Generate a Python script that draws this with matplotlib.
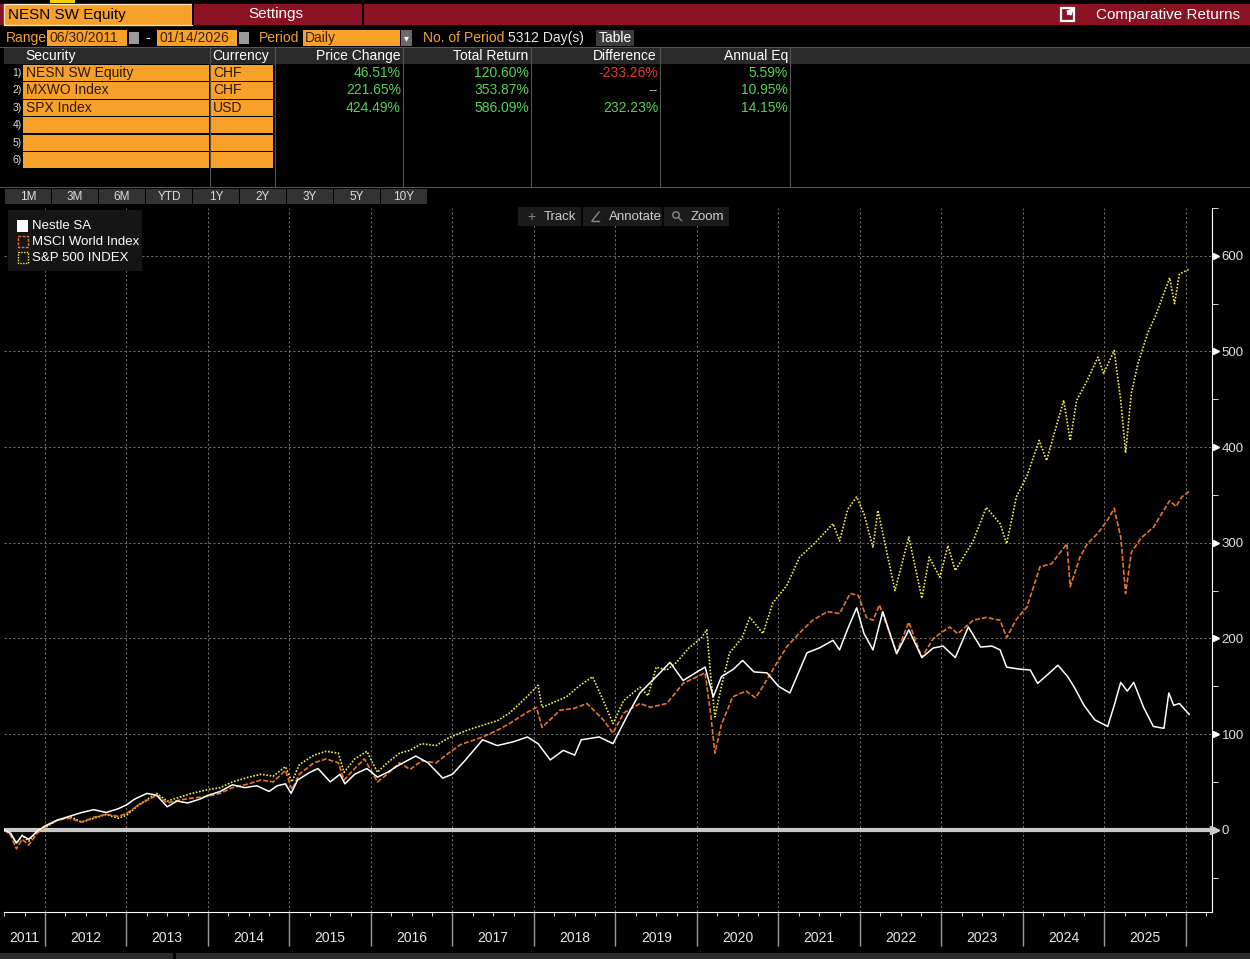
import matplotlib
matplotlib.use("Agg")
import matplotlib.pyplot as plt
import matplotlib.transforms as mtransforms
from matplotlib.patches import Rectangle
import numpy as np

plt.rcParams['font.family'] = ['Liberation Sans Narrow', 'Liberation Sans', 'DejaVu Sans']

# ---- data (cumulative total return, %) ----
nesn_t = [2011.50, 2011.58, 2011.65, 2011.72, 2011.80, 2011.90, 2012.00, 2012.15, 2012.30, 2012.45,
          2012.60, 2012.75, 2012.90, 2013.00, 2013.10, 2013.25, 2013.37, 2013.50, 2013.62, 2013.75,
          2013.90, 2014.00, 2014.15, 2014.30, 2014.45, 2014.60, 2014.75, 2014.85, 2014.95, 2015.02,
          2015.10, 2015.25, 2015.35, 2015.50, 2015.62, 2015.68, 2015.80, 2015.95, 2016.08, 2016.20,
          2016.35, 2016.55, 2016.70, 2016.88, 2017.00, 2017.15, 2017.37, 2017.55, 2017.75, 2017.92,
          2018.05, 2018.20, 2018.36, 2018.50, 2018.58, 2018.80, 2018.97, 2019.15, 2019.30, 2019.50,
          2019.67, 2019.83, 2020.00, 2020.10, 2020.20, 2020.30, 2020.45, 2020.56, 2020.70, 2020.86,
          2021.00, 2021.14, 2021.35, 2021.50, 2021.67, 2021.75, 2021.85, 2021.96, 2022.05, 2022.16,
          2022.28, 2022.45, 2022.60, 2022.76, 2022.90, 2023.02, 2023.17, 2023.33, 2023.48, 2023.62,
          2023.72, 2023.80, 2023.95, 2024.09, 2024.18, 2024.30, 2024.43, 2024.55, 2024.63, 2024.75,
          2024.88, 2025.04, 2025.12, 2025.20, 2025.28, 2025.36, 2025.48, 2025.60, 2025.73, 2025.79,
          2025.85, 2025.92, 2026.04]
nesn_v = [0, -4, -14, -6, -10, -2, 4, 10, 14, 18,
          21, 18, 22, 26, 32, 38, 36, 24, 30, 28,
          32, 36, 40, 47, 44, 46, 40, 46, 48, 38,
          52, 60, 64, 50, 58, 48, 58, 64, 55, 60,
          68, 77, 70, 54, 58, 72, 94, 88, 92, 97,
          90, 73, 83, 78, 94, 97, 90, 120, 143, 160,
          175, 156, 165, 170, 139, 160, 168, 177, 165, 164,
          150, 143, 185, 190, 198, 188, 210, 232, 205, 188,
          228, 184, 209, 180, 190, 192, 180, 212, 191, 192,
          188, 170, 168, 167, 153, 162, 172, 160, 149, 130,
          115, 108, 130, 154, 145, 154, 128, 108, 106, 143,
          130, 132, 120.6]

mxwo_t = [2011.50, 2011.58, 2011.65, 2011.72, 2011.80, 2011.90, 2012.00, 2012.15, 2012.30, 2012.45,
          2012.60, 2012.75, 2012.90, 2013.00, 2013.15, 2013.37, 2013.50, 2013.65, 2013.80, 2014.00,
          2014.15, 2014.30, 2014.50, 2014.65, 2014.80, 2014.95, 2015.03, 2015.12, 2015.30, 2015.45,
          2015.60, 2015.67, 2015.80, 2015.92, 2016.08, 2016.20, 2016.35, 2016.48, 2016.62, 2016.80,
          2016.95, 2017.10, 2017.37, 2017.55, 2017.70, 2017.90, 2018.03, 2018.10, 2018.32, 2018.50,
          2018.65, 2018.85, 2018.97, 2019.10, 2019.30, 2019.43, 2019.63, 2019.83, 2020.00, 2020.10,
          2020.17, 2020.22, 2020.30, 2020.44, 2020.60, 2020.72, 2020.81, 2020.95, 2021.10, 2021.25,
          2021.42, 2021.60, 2021.75, 2021.88, 2021.98, 2022.08, 2022.16, 2022.24, 2022.45, 2022.60,
          2022.76, 2022.90, 2023.10, 2023.20, 2023.39, 2023.55, 2023.72, 2023.80, 2023.92, 2024.05,
          2024.21, 2024.35, 2024.54, 2024.58, 2024.70, 2024.79, 2024.92, 2025.04, 2025.12, 2025.20,
          2025.26, 2025.33, 2025.45, 2025.60, 2025.70, 2025.80, 2025.88, 2025.95, 2026.04]
mxwo_v = [0, -6, -20, -10, -16, -4, 3, 10, 12, 8,
          13, 16, 14, 17, 26, 36, 28, 31, 33, 35,
          38, 44, 48, 52, 50, 62, 42, 58, 70, 74,
          70, 52, 64, 74, 50, 58, 70, 63, 72, 70,
          80, 89, 97, 104, 111, 122, 128, 107, 125, 127,
          132, 115, 101, 122, 132, 128, 132, 153, 160, 164,
          120, 80, 110, 139, 145, 138, 150, 170, 191, 205,
          219, 228, 226, 247, 245, 222, 219, 235, 185, 217,
          180, 200, 212, 205, 219, 222, 219, 201, 220, 233,
          275, 278, 299, 254, 285, 299, 310, 324, 336, 306,
          247, 290, 305, 316, 330, 344, 338, 348, 353.87]

spx_t = [2011.50, 2011.58, 2011.65, 2011.72, 2011.80, 2011.90, 2012.00, 2012.15, 2012.30, 2012.45,
         2012.60, 2012.75, 2012.90, 2013.00, 2013.15, 2013.37, 2013.50, 2013.65, 2013.80, 2014.00,
         2014.15, 2014.30, 2014.50, 2014.65, 2014.80, 2014.95, 2015.03, 2015.12, 2015.30, 2015.45,
         2015.60, 2015.67, 2015.80, 2015.95, 2016.08, 2016.20, 2016.35, 2016.48, 2016.62, 2016.80,
         2016.95, 2017.18, 2017.40, 2017.55, 2017.70, 2017.90, 2018.05, 2018.10, 2018.40, 2018.55,
         2018.72, 2018.85, 2018.97, 2019.10, 2019.30, 2019.40, 2019.50, 2019.63, 2019.75, 2019.90,
         2020.05, 2020.12, 2020.17, 2020.22, 2020.30, 2020.40, 2020.55, 2020.65, 2020.81, 2020.93,
         2021.10, 2021.26, 2021.45, 2021.67, 2021.75, 2021.85, 2021.96, 2022.05, 2022.16, 2022.22,
         2022.43, 2022.60, 2022.76, 2022.85, 2022.98, 2023.08, 2023.17, 2023.39, 2023.55, 2023.72,
         2023.80, 2023.92, 2024.05, 2024.20, 2024.29, 2024.50, 2024.58, 2024.66, 2024.79, 2024.92,
         2024.99, 2025.12, 2025.20, 2025.26, 2025.33, 2025.41, 2025.53, 2025.64, 2025.80, 2025.86,
         2025.92, 2026.04]
spx_v = [0, -4, -14, -6, -12, -2, 2, 10, 14, 8,
         12, 16, 12, 15, 26, 38, 30, 34, 38, 42,
         44, 50, 55, 58, 56, 66, 50, 68, 78, 82,
         80, 60, 74, 82, 60, 70, 80, 83, 90, 88,
         96, 104, 110, 114, 122, 138, 151, 128, 139, 150,
         160, 135, 111, 135, 149, 140, 170, 167, 175, 190,
         200, 209, 160, 118, 150, 185, 200, 222, 205, 237,
         255, 285, 300, 320, 302, 335, 348, 330, 295, 334,
         250, 306, 242, 285, 264, 297, 271, 302, 337, 320,
         299, 348, 370, 407, 386, 449, 407, 449, 470, 494,
         477, 501, 449, 394, 456, 487, 519, 540, 577, 550,
         581, 586.09]

series_names = ["Nestle SA", "MSCI World Index", "S&P 500 INDEX"]
securities = ["NESN SW Equity", "MXWO Index", "SPX Index"]
currencies = ["CHF", "CHF", "USD"]
price_change = ["46.51%", "221.65%", "424.49%"]
total_return = ["120.60%", "353.87%", "586.09%"]
difference = ["-233.26%", "--", "232.23%"]
annual_eq = ["5.59%", "10.95%", "14.15%"]
period_buttons = ["1M", "3M", "6M", "YTD", "1Y", "2Y", "3Y", "5Y", "10Y"]
years = list(range(2011, 2026))

ORANGE_BOX = "#f7a12b"
RED = "#8a1222"
GREEN = "#56d356"
C_NESN = "#ffffff"
C_MXWO = "#e8742a"
C_SPX = "#f0f04a"

W, H = 1250, 959
fig = plt.figure(figsize=(W / 100, H / 100), dpi=100, facecolor="black")

# ---- chart axes (pixel box: x 4..1212, y 208..912) ----
ax = fig.add_axes([4 / W, (H - 912) / H, (1212 - 4) / W, (912 - 208) / H])
ax.set_facecolor("black")
ax.set_xlim(2011.497, 2026.32)
ax.set_ylim(-86, 650)

for s in ["top", "left"]:
    ax.spines[s].set_visible(False)
ax.spines["right"].set_color("white")
ax.spines["bottom"].set_color("white")

ax.yaxis.tick_right()
ax.set_yticks(range(0, 601, 100))
ax.set_yticks(range(-50, 651, 100), minor=True)
ax.tick_params(axis="y", which="both", direction="out", length=4, color="white",
               labelcolor="#e0e0e0", labelsize=9.5, pad=3)

ax.set_xticks(range(2012, 2027))
ax.set_xticks(np.arange(2011.5, 2026.3, 0.25), minor=True)
ax.tick_params(axis="x", which="major", direction="out", length=24.5, width=1,
               color="#9a9a9a", labelbottom=False)
ax.tick_params(axis="x", which="minor", direction="out", length=3, color="white")

# grid
for v in range(100, 601, 100):
    ax.axhline(v, color="#6a6a6a", lw=0.8, ls=(0, (2, 2)), zorder=1)
for yr in range(2012, 2027):
    ax.axvline(yr, color="#6a6a6a", lw=0.8, ls=(0, (2, 2)), zorder=1)

ax.axhline(0, color="#c8c8c8", lw=3, zorder=2)

ax.plot(spx_t, spx_v, color=C_SPX, lw=1.2, ls=(0, (1, 1)), zorder=3)
ax.plot(mxwo_t, mxwo_v, color=C_MXWO, lw=1.2, ls=(0, (3, 1.2)), zorder=4)
ax.plot(nesn_t, nesn_v, color=C_NESN, lw=1.1, zorder=5)

# tick triangles on the right axis
tr = mtransforms.blended_transform_factory(ax.transAxes, ax.transData)
ax.plot([1.0035] * 7, list(range(0, 601, 100)), ls="none", marker=">", ms=5,
        color="white", transform=tr, clip_on=False)

# year labels centred in each year slot
trx = mtransforms.blended_transform_factory(ax.transData, ax.transAxes)
for yr in years:
    xc = 2011.75 if yr == 2011 else yr + 0.5
    ax.text(xc, -0.037, str(yr), transform=trx, ha="center", va="center",
            color="#e8e8e8", fontsize=10)

# ---- overlay in pixel coordinates ----
ov = fig.add_axes([0, 0, 1, 1])
ov.set_xlim(0, W)
ov.set_ylim(H, 0)
ov.axis("off")
ov.patch.set_alpha(0)
ov.set_zorder(5)


def box(x0, y0, x1, y1, fc, ec="none", lw=0, **kw):
    ov.add_patch(Rectangle((x0, y0), x1 - x0, y1 - y0, facecolor=fc, edgecolor=ec, lw=lw, **kw))


# top bar
box(50, 0, 75, 3, "#f5d200")
box(0, 4, W, 25, RED)
box(4, 4, 192, 25, ORANGE_BOX, ec="#f3e3c0", lw=1)
ov.text(8, 15, "NESN SW Equity", color="black", fontsize=11, va="center")
box(362, 4, 364, 25, "black")
box(192, 4, 194, 25, "black")
ov.text(276, 14, "Settings", color="white", fontsize=11, ha="center", va="center")
box(1061, 8, 1074, 21, "none", ec="white", lw=1.6)
ov.annotate("", xy=(1076, 6), xytext=(1066, 16),
            arrowprops=dict(arrowstyle="-|>", color="white", lw=1.6, mutation_scale=8))
ov.text(1240, 15, "Comparative Returns", color="white", fontsize=11, ha="right", va="center")

# range row
ov.text(6, 38, "Range", color=ORANGE_BOX, fontsize=10, va="center")
box(47, 30, 127, 46, ORANGE_BOX)
ov.text(49, 38, "06/30/2011", color="#3a2000", fontsize=10, va="center")
box(129, 32, 139, 44, "#9a9a9a")
ov.text(148, 38, "-", color="white", fontsize=10, ha="center", va="center")
box(157, 30, 237, 46, ORANGE_BOX)
ov.text(159, 38, "01/14/2026", color="#3a2000", fontsize=10, va="center")
box(239, 32, 249, 44, "#9a9a9a")
ov.text(259, 38, "Period", color=ORANGE_BOX, fontsize=10, va="center")
box(303, 30, 400, 46, ORANGE_BOX)
ov.text(305, 38, "Daily", color="#3a2000", fontsize=10, va="center")
box(401, 30, 412, 46, "#6a6a6a")
ov.text(406.5, 38, "▾", color="white", fontsize=7, ha="center", va="center")
ov.text(423, 38, "No. of Period", color=ORANGE_BOX, fontsize=10, va="center")
ov.text(508, 38, "5312 Day(s)", color="#e8e8e8", fontsize=10, va="center")
box(596, 30, 634, 46, "#3c3c3c")
ov.text(615, 38, "Table", color="white", fontsize=10, ha="center", va="center")

# table
box(0, 47, W, 48, "#555555")
box(4, 48, W, 64, "#2a2a2a")
ov.text(25, 56, "Security", color="white", fontsize=10, va="center")
ov.text(212, 56, "Currency", color="white", fontsize=10, va="center")
for xr, lbl in zip([400, 528, 657, 788], ["Price Change", "Total Return", "Difference", "Annual Eq"]):
    ov.text(xr, 56, lbl, color="white", fontsize=10, ha="right", va="center")
row_h = 17.4
for i in range(6):
    y0 = 65 + i * row_h
    box(23, y0, 209, y0 + row_h - 1.2, ORANGE_BOX)
    box(211, y0, 273, y0 + row_h - 1.2, ORANGE_BOX)
    ov.text(17, y0 + 8, f"{i + 1})", color="#dddddd", fontsize=7.5, ha="center", va="center")
for i in range(3):
    yc = 65 + i * row_h + 8
    ov.text(26, yc, securities[i], color="#2a1800", fontsize=10, va="center")
    ov.text(213, yc, currencies[i], color="#2a1800", fontsize=10, va="center")
    ov.text(401, yc, price_change[i], color=GREEN, fontsize=10, ha="right", va="center")
    ov.text(529, yc, total_return[i], color=GREEN, fontsize=10, ha="right", va="center")
    dcol = "#e8333c" if difference[i].startswith("-") and difference[i] != "--" else (
        "#bbbbbb" if difference[i] == "--" else GREEN)
    ov.text(658, yc, difference[i], color=dcol, fontsize=10, ha="right", va="center")
    ov.text(788, yc, annual_eq[i], color=GREEN, fontsize=10, ha="right", va="center")
for xs in [209.5, 274.5, 403, 531, 660, 790]:
    ov.plot([xs, xs], [48, 187], color="#555555", lw=0.8)
box(0, 187, W, 188, "#555555")

# period buttons
for i, lbl in enumerate(period_buttons):
    x0 = 5 + i * 47
    box(x0, 189, x0 + 45.5, 204, "#333333")
    ov.text(x0 + 23, 197, lbl, color="#dddddd", fontsize=8.5, ha="center", va="center")

# track / annotate / zoom
box(518, 207, 729, 226, "#1b1b1b")
for xs in [582, 663]:
    ov.plot([xs, xs], [208, 225], color="#000000", lw=1.2)
ov.text(531, 216.5, "+", color="#888888", fontsize=10, ha="center", va="center")
ov.text(544, 216.5, "Track", color="#cfcfcf", fontsize=9.5, va="center")
ov.plot([592, 599], [221, 212], color="#888888", lw=1)
ov.plot([592, 599], [221, 221], color="#888888", lw=1)
ov.text(609, 216.5, "Annotate", color="#cfcfcf", fontsize=9.5, va="center")
ov.add_patch(plt.Circle((676, 215), 3.2, fill=False, ec="#888888", lw=1))
ov.plot([678.5, 681.5], [217.5, 220.5], color="#888888", lw=1)
ov.text(691, 216.5, "Zoom", color="#cfcfcf", fontsize=9.5, va="center")

# legend
box(8, 210, 142, 271, "#151515")
box(17, 220, 28, 232, C_NESN)
box(17.5, 236, 27.5, 247, "none", ec=C_MXWO, lw=1, ls=(0, (2, 1)))
box(17.5, 252, 27.5, 263, "none", ec=C_SPX, lw=1, ls=(0, (1, 1)))
for j, name in enumerate(series_names):
    ov.text(32, 226 + j * 16, name, color="white", fontsize=9.5, va="center")

# zero-line end arrow
ov.plot([1214], [830], marker=">", ms=6, color="#c8c8c8", ls="none")

# bottom status bar
box(0, 953, 173, H, "#2a2a2a")
box(176, 953, W, H, "#2a2a2a")

fig.savefig("out.png", dpi=100, facecolor="black")
